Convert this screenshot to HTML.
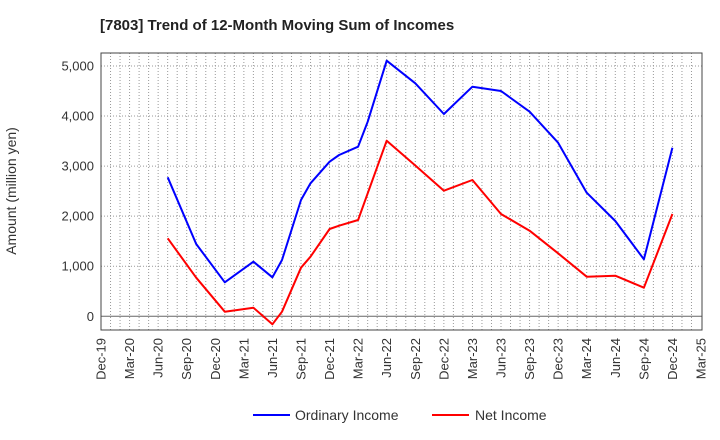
<!DOCTYPE html>
<html><head><meta charset="utf-8"><style>
body{margin:0;background:#fff;}
svg{display:block;font-family:"Liberation Sans",Arial,sans-serif;}
</style></head><body>
<svg id="chart" width="720" height="440">
<text x="100" y="30" font-size="15" font-weight="bold" fill="#222">[7803]  Trend of 12-Month Moving Sum of Incomes</text>
<text transform="translate(16,191) rotate(-90)" text-anchor="middle" font-size="14" fill="#333">Amount (million yen)</text>
<g id="grid"></g>
<g id="axes"></g>
<g id="series"></g>
<rect x="101" y="53" width="601" height="277" fill="none" stroke="#444" stroke-width="1"/>
<g>
<g><line x1="253" y1="415" x2="290" y2="415" stroke="#0000ff" stroke-width="2"/><text x="295" y="420" font-size="14" fill="#333">Ordinary Income</text></g>
<g><line x1="432" y1="415" x2="469" y2="415" stroke="#ff0000" stroke-width="2"/><text x="475" y="420" font-size="14" fill="#333">Net Income</text></g>
</g>
</svg>
<script>
const months = ["2020-07","2020-10","2021-01","2021-04","2021-06","2021-07","2021-09","2021-10","2021-12","2022-01","2022-03","2022-04","2022-06","2022-09","2022-12","2023-03","2023-06","2023-09","2023-12","2024-03","2024-06","2024-09","2024-12"];
const ordinaryIncome = [2776,1444,679,1091,779,1125,2323,2657,3088,3222,3388,3888,5106,4655,4041,4587,4500,4088,3468,2469,1904,1139,3368];
const netIncome = [1558,771,92,172,-160,92,971,1191,1744,1810,1924,2457,3508,3013,2509,2723,2044,1710,1258,791,811,571,2044];
const xTickLabels = ["Dec-19","Mar-20","Jun-20","Sep-20","Dec-20","Mar-21","Jun-21","Sep-21","Dec-21","Mar-22","Jun-22","Sep-22","Dec-22","Mar-23","Jun-23","Sep-23","Dec-23","Mar-24","Jun-24","Sep-24","Dec-24","Mar-25"];
const yTicks = [0,1000,2000,3000,4000,5000];

const NS="http://www.w3.org/2000/svg";
const x0=101, pxPerMonth=600/63;
function xPos(mIdx){return x0+mIdx*pxPerMonth;}
function monthIndex(s){const [y,m]=s.split("-").map(Number);return (y-2019)*12+(m-12);}
function yPos(v){return 316.3-v*250.3/5000;}
function mk(tag,attrs,parent){const e=document.createElementNS(NS,tag);for(const k in attrs)e.setAttribute(k,attrs[k]);parent.appendChild(e);return e;}
const grid=document.getElementById("grid"), axes=document.getElementById("axes"), series=document.getElementById("series");
for(let m=1;m<63;m++){
  const l=mk("line",{x1:xPos(m),x2:xPos(m),y1:53,y2:330,stroke:"#999","stroke-width":1,"stroke-dasharray":"1,2"},grid);
  
  
}
yTicks.forEach(v=>{
  const l=mk("line",{x1:101,x2:702,y1:yPos(v),y2:yPos(v),stroke:v===0?"#666":"#999","stroke-width":1,"stroke-dasharray":v===0?"none":"1,2"},grid);
  
  
  const t=mk("text",{x:94,y:yPos(v)+4.5,"text-anchor":"end","font-size":13,fill:"#333"},axes);
  t.textContent=v.toLocaleString("en-US");
  
  
});
xTickLabels.forEach((s,i)=>{
  const x=xPos(i*3);
  const t=mk("text",{transform:`translate(${x+4.5},338) rotate(-90)`,"text-anchor":"end","font-size":13,fill:"#333"},axes);
  t.textContent=s;
  
  
});
function drawLine(vals,color,name){
  const pts=vals.map((v,i)=>xPos(monthIndex(months[i])).toFixed(1)+","+yPos(v).toFixed(1)).join(" ");
  const p=mk("polyline",{points:pts,fill:"none",stroke:color,"stroke-width":2,"stroke-linejoin":"round"},series);
  
  
}
drawLine(ordinaryIncome,"#0000ff","ordinary-income-line");
drawLine(netIncome,"#ff0000","net-income-line");
</script>
</body></html>
